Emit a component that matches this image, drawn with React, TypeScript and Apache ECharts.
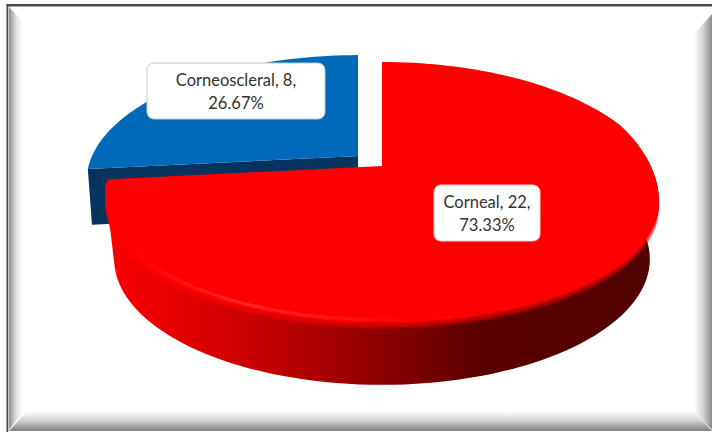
import React, { useEffect, useRef } from "react";
import * as echarts from "echarts";

const categories = ["Corneal", "Corneoscleral"];
const seriesValues = [22, 8];
const percentLabels = ["73.33%", "26.67%"];

const W = 712;
const H = 435;
const K = 0.2;
const A = 124.8;
const B = 271.4;
const STEP = 2;

type Geo = { ax: number; ay: number; sx: number; sy: number };
const TOP: Geo[] = [
  { ax: 382, ay: 166, sx: 1, sy: 1 },
  { ax: 358, ay: 156, sx: 0.98, sy: 0.97 },
];
const BOTTOM: Geo[] = [
  { ax: 382, ay: 234, sx: 0.967, sy: 0.967 },
  { ax: 358, ay: 212, sx: 0.965, sy: 0.96 },
];
const LABEL_BOX = [
  { x: 434, y: 185, w: 106, h: 56 },
  { x: 147, y: 63, w: 178, h: 56 },
];

function project(g: Geo, deg: number): number[] {
  const t = (deg * Math.PI) / 180;
  const u = Math.sin(t);
  const v = Math.cos(t);
  const w = 1 + K * v;
  return [g.ax + (g.sx * B * u) / w, g.ay - (g.sy * A * v) / w];
}

function arc(g: Geo, from: number, to: number): number[][] {
  const out: number[][] = [];
  const dir = to >= from ? 1 : -1;
  for (let d = from; dir > 0 ? d < to : d > to; d += dir * STEP) out.push(project(g, d));
  out.push(project(g, to));
  return out;
}

const clamp01 = (x: number) => Math.max(0, Math.min(1, x));

// the rounded rim lets the face of the pie bulge a little over the wall at its sides
function rimDrop(deg: number, end: number): number {
  const u = Math.sin((deg * Math.PI) / 180);
  if (deg <= 180) return 10 * u * u * clamp01((deg - 70) / 31);
  return 8 * u * u * clamp01((end - deg) / 18);
}

function faceArc(g: Geo, from: number, to: number, end: number): number[][] {
  const raw = arc(g, from, to);
  return raw.map((p, idx) => {
    const d = idx === raw.length - 1 ? to : from + idx * STEP * (to >= from ? 1 : -1);
    return [p[0], p[1] + rimDrop(d, end)];
  });
}

function renderItem(params: any, api: any) {
  const i = params.dataIndex;
  const total = seriesValues.reduce((a, b) => a + b, 0);
  const before = seriesValues.slice(0, i).reduce((a, b) => a + b, 0);
  const start = (before / total) * 360;
  const end = start + (api.value(0) / total) * 360;
  const top = TOP[i];
  const bot = BOTTOM[i];
  const children: any[] = [];
  const apex = [top.ax, top.ay];

  if (i === 0) {
    const wallFrom = 60;
    const corner = project(top, end);
    const toApex = (f: number) => [corner[0] + (apex[0] - corner[0]) * f, corner[1] + (apex[1] - corner[1]) * f];
    const rounded = [
      [corner[0] + 0.6, corner[1] + 2.5],
      [corner[0] + 1.6, corner[1] + 0.4],
      toApex(0.012),
    ];
    const pts = [
      ...faceArc(top, wallFrom, end - 1.5, end),
      [corner[0] + 3.5, corner[1] + 46],
      ...arc(bot, end - 8, wallFrom),
    ];
    children.push({
      type: "polygon",
      z2: 10,
      shape: { points: pts },
      style: {
        fill: {
          type: "linear", x: 110, y: 0, x2: 655, y2: 0, global: true,
          colorStops: [
            { offset: 0, color: "#fb0000" },
            { offset: 0.17, color: "#dc0000" },
            { offset: 0.33, color: "#b80000" },
            { offset: 0.5, color: "#8c0000" },
            { offset: 0.68, color: "#5a0000" },
            { offset: 1, color: "#520000" },
          ],
        },
      },
    });
    for (let s = 1; s <= 7; s++) {
      const shifted = { ...top, ay: top.ay + s };
      children.push({
        type: "polygon",
        z2: 10.5,
        shape: { points: [[top.ax, top.ay + s], ...faceArc(shifted, 70, end - 1.5, end)] },
        style: { fill: "rgba(255,0,0,0.2)" },
      });
    }
    children.push({
      type: "polygon",
      z2: 11,
      shape: { points: [apex, ...faceArc(top, start, end - 1.5, end), ...rounded] },
      style: { fill: "#ff0000" },
    });
    children.push({
      type: "polyline",
      z2: 12,
      shape: { points: faceArc({ ...top, sx: 0.985, sy: 0.985 }, 235, 170, end) },
      style: {
        fill: "none",
        lineWidth: 3,
        stroke: {
          type: "linear", x: 130, y: 0, x2: 420, y2: 0, global: true,
          colorStops: [
            { offset: 0, color: "rgba(255,60,60,0)" },
            { offset: 0.4, color: "rgba(255,70,70,0.55)" },
            { offset: 1, color: "rgba(255,60,60,0)" },
          ],
        },
      },
    });
  } else {
    const corner = project(top, start);
    const cornerB = project(bot, start);
    children.push({
      type: "polygon",
      z2: 1,
      shape: { points: [apex, corner, cornerB, [bot.ax, bot.ay]] },
      style: { fill: "#06345e" },
    });
    children.push({
      type: "polygon",
      z2: 2,
      shape: { points: [apex, ...arc(top, start, end)] },
      style: { fill: "#0069ba" },
    });
  }

  const box = LABEL_BOX[i];
  children.push({
    type: "rect",
    z2: 20,
    shape: { x: box.x, y: box.y, width: box.w, height: box.h, r: 7 },
    style: { fill: "#ffffff", stroke: i === 0 ? "#f4d0d0" : "#c8c8c8", lineWidth: 1 },
  });
  children.push({
    type: "text",
    z2: 21,
    style: {
      text: `${categories[i]}, ${api.value(0)},\n${percentLabels[i]}`,
      x: box.x + box.w / 2,
      y: box.y + box.h / 2,
      align: "center",
      verticalAlign: "middle",
      font: '16.5px Lato, "Open Sans", sans-serif',
      lineHeight: 23,
      fill: "#333333",
    },
  });
  return { type: "group", children };
}

function bevelFill(x: number, y: number, x2: number, y2: number, dark: string, mid: string) {
  return {
    type: "linear", x, y, x2, y2, global: true,
    colorStops: [
      { offset: 0, color: dark },
      { offset: 0.5, color: mid },
      { offset: 1, color: "#ffffff" },
    ],
  };
}

const frame: any[] = [
  { type: "rect", z: 0, shape: { x: 0, y: 0, width: W, height: H }, style: { fill: "#ffffff" } },
  {
    type: "polygon", z: 1,
    shape: { points: [[9, 7], [23, 22], [23, 412], [9, 430]] },
    style: { fill: bevelFill(9, 0, 23, 0, "#8f8f8f", "#e0e0e0") },
  },
  {
    type: "polygon", z: 1,
    shape: { points: [[712, 14], [694, 34], [694, 411], [712, 430]] },
    style: { fill: bevelFill(712, 0, 694, 0, "#8a8a8a", "#d4d4d4") },
  },
  {
    type: "polygon", z: 1,
    shape: { points: [[9, 431], [27, 411], [694, 411], [712, 431]] },
    style: { fill: bevelFill(0, 431, 0, 411, "#7e7e7e", "#cfcfcf") },
  },
  { type: "rect", z: 2, shape: { x: 6.5, y: 4, width: 705.5, height: 2.5 }, style: { fill: "#4a4a4a" } },
  { type: "rect", z: 2, shape: { x: 6.5, y: 4, width: 1.8, height: 428 }, style: { fill: "#4a4a4a" } },
];

export default function App() {
  const ref = useRef<HTMLDivElement>(null);
  useEffect(() => {
    const chart = echarts.init(ref.current!, undefined, { renderer: "svg" });
    chart.setOption({
      animation: false,
      backgroundColor: "#ffffff",
      graphic: { elements: frame },
      series: [
        {
          type: "custom",
          coordinateSystem: "none",
          renderItem,
          silent: true,
          z: 5,
          data: seriesValues.map((v) => [v]),
        },
      ],
    });
    return () => chart.dispose();
  }, []);
  return <div ref={ref} style={{ position: "fixed", left: 0, top: 0, width: W, height: H }} />;
}
